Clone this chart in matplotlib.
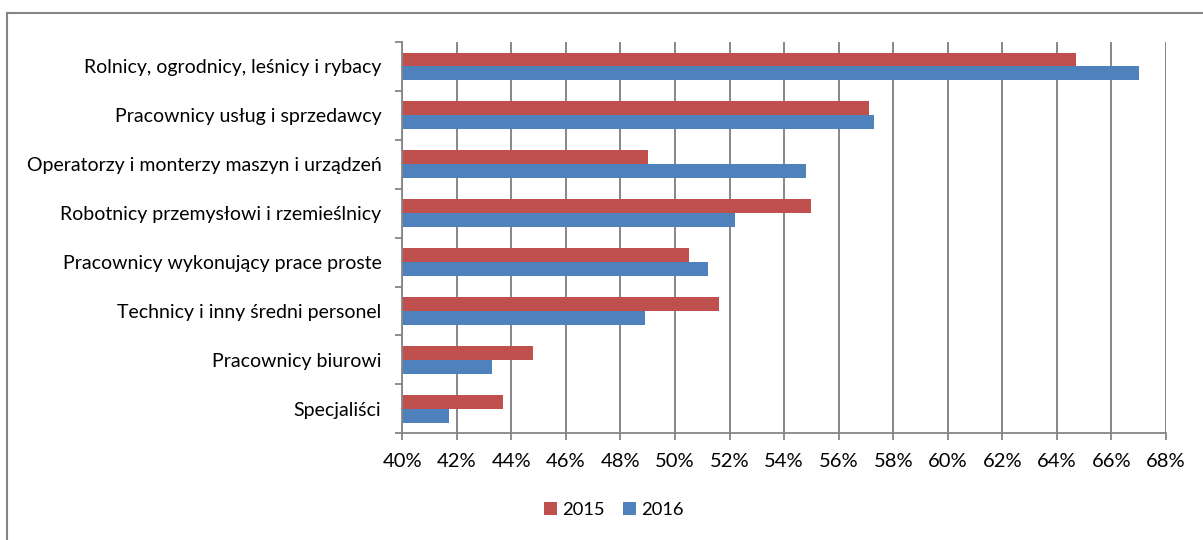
import numpy as np
import matplotlib.pyplot as plt
from matplotlib.lines import Line2D
from matplotlib.ticker import FuncFormatter

plt.rcParams['font.family'] = ['Lato', 'DejaVu Sans']

categories = [
    'Rolnicy, ogrodnicy, leśnicy i rybacy',
    'Pracownicy usług i sprzedawcy',
    'Operatorzy i monterzy maszyn i urządzeń',
    'Robotnicy przemysłowi i rzemieślnicy',
    'Pracownicy wykonujący prace proste',
    'Technicy i inny średni personel',
    'Pracownicy biurowi',
    'Specjaliści',
]
v2015 = [64.7, 57.1, 49.0, 55.0, 50.5, 51.6, 44.8, 43.7]
v2016 = [67.0, 57.3, 54.8, 52.2, 51.2, 48.9, 43.3, 41.7]

red = '#C0504D'
blue = '#4F81BD'
grid = '#868686'

W, H = 1203, 540
fig = plt.figure(figsize=(W / 100, H / 100), dpi=100)
ax = fig.add_axes([402.3 / W, 1 - 433.3 / H, (1166 - 402.3) / W, (433.3 - 42) / H])

y = np.arange(len(categories))
h = 0.285
ax.barh(y - h / 2, np.array(v2015) - 40, left=40, height=h, color=red, label='2015')
ax.barh(y + h / 2, np.array(v2016) - 40, left=40, height=h, color=blue, label='2016')

ax.set_xlim(40, 68)
ax.set_ylim(len(categories) - 0.5, -0.5)
ax.set_xticks(np.arange(40, 69, 2))
ax.xaxis.set_major_formatter(FuncFormatter(lambda v, p: f'{v:.0f}%'))
ax.set_yticks(y)
ax.set_yticklabels(categories)
ax.set_yticks(np.arange(-0.5, len(categories), 1), minor=True)
ax.tick_params(axis='y', which='major', length=0, pad=15, labelsize=14)
ax.tick_params(axis='y', which='minor', length=5, width=1.3, color=grid)
ax.tick_params(axis='x', length=5, width=1.3, color=grid, labelsize=14.5, pad=9)

ax.grid(axis='x', color=grid, linewidth=1.4)
ax.set_axisbelow(True)
for s in ['top', 'right']:
    ax.spines[s].set_visible(False)
for s in ['left', 'bottom']:
    ax.spines[s].set_color(grid)
    ax.spines[s].set_linewidth(1.3)

fig.legend(loc='center', bbox_to_anchor=(614 / W, 1 - 510 / H), ncol=2, frameon=False,
           fontsize=13.2, handlelength=0.7, handleheight=0.7, handletextpad=0.3, columnspacing=1.0)

# chart area border (cropped on the right and bottom)
fig.add_artist(Line2D([6.5 / W, 6.5 / W], [0, 1 - 13 / H], color=grid, linewidth=1.5))
fig.add_artist(Line2D([6.5 / W, 1], [1 - 13 / H, 1 - 13 / H], color=grid, linewidth=1.5))

fig.savefig('out.png', dpi=100)
